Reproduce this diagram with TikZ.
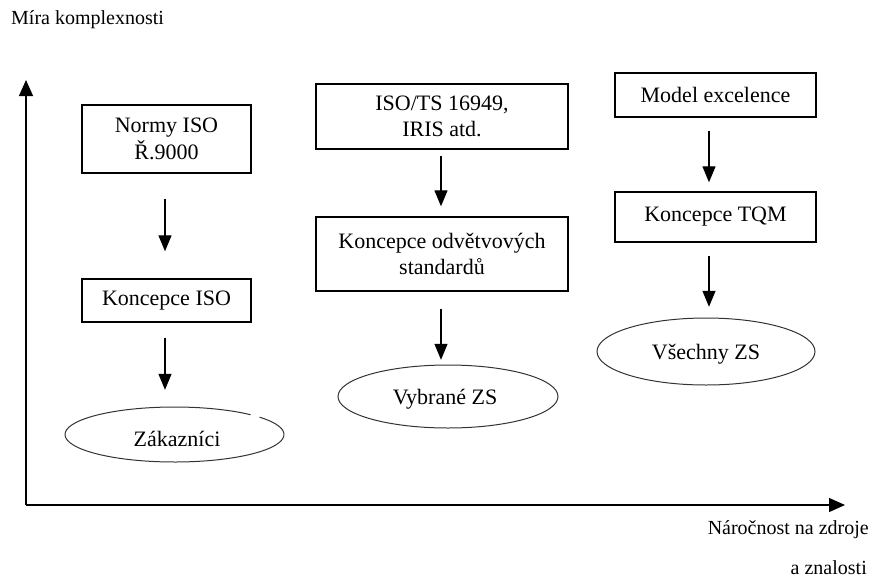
\documentclass[tikz,border=0pt]{standalone}
\usepackage{fontspec}
\setmainfont{Liberation Serif}
\usetikzlibrary{arrows.meta,shapes.geometric,calc}

\begin{document}
\begin{tikzpicture}[x=1pt,y=1pt,
  box/.style={draw=black, line width=1.4pt, rectangle, inner sep=0pt,
    align=center, font=\fontsize{22}{26.5}\selectfont},
  oval/.style={ellipse, inner sep=0pt, font=\fontsize{22}{26}\selectfont},
  ovalline/.style={draw=black!80, line width=1pt},
  flow/.style={line width=1.3pt, -{Triangle[length=16pt,width=13pt]}},
  axis/.style={line width=1.3pt, -{Triangle[length=16pt,width=14pt]}},
  lbl/.style={inner sep=0pt, font=\fontsize{20}{24}\selectfont}]

\useasboundingbox (0,0) rectangle (873,-579);

% axes
\coordinate (origin) at (26,-505);
\coordinate (ytip) at (26,-80);
\coordinate (xtip) at (845,-505);
\draw[axis] (origin) -- (ytip);
\draw[axis] (origin) -- (xtip);

\node[lbl, anchor=west] (ylabel) at (11,-20) {Míra komplexnosti};
\node[lbl, anchor=east] (xlabel1) at (869,-530) {Náročnost na zdroje};
\node[lbl, anchor=east] (xlabel2) at (867,-568) {a znalosti};

% column 1: ISO
\node[box, minimum width=169pt, minimum height=68pt] (iso) at (166.5,-139) {Normy ISO\\Ř.9000};
\node[box, minimum width=169pt, minimum height=43pt] (kiso) at (166.5,-300.5) {Koncepce ISO};
\node[oval, minimum width=219pt, minimum height=55pt] (zak) at (174.5,-434.5) {};
\node[oval] (zaktext) at (177,-439) {Zákazníci};
\draw[ovalline] ($(zak.center)+({109.5*cos(46)},{27.5*sin(46)})$)
  arc[start angle=46, end angle=399, x radius=109.5, y radius=27.5];

\draw[flow, shorten <=25pt, shorten >=27pt] ([xshift=-1.5pt]iso.south) -- ([xshift=-1.5pt]kiso.north);
\draw[flow, shorten <=15pt, shorten >=17pt] ([xshift=-1.5pt]kiso.south) -- ([xshift=-1.5pt]kiso.south |- zak.north);

% column 2: sector standards
\node[box, minimum width=252pt, minimum height=65pt] (ists) at (442,-116.5) {ISO/TS 16949,\\IRIS atd.};
\node[box, minimum width=252pt, minimum height=74pt] (kodv) at (442,-254) {Koncepce odvětvových\\standardů};
\node[oval, minimum width=220pt, minimum height=63pt] (vyb) at (448,-396.5) {};
\node[oval] (vybtext) at (445,-399) {Vybrané ZS};
\draw[ovalline] (vyb.center) ellipse[x radius=110, y radius=31.5];

\draw[flow, shorten <=6pt, shorten >=10pt] ([xshift=-1pt]ists.south) -- ([xshift=-1pt]kodv.north);
\draw[flow, shorten <=17pt, shorten >=5pt] ([xshift=-1pt]kodv.south) -- ([xshift=-1pt]kodv.south |- vyb.north);

% column 3: excellence
\node[box, minimum width=201pt, minimum height=44pt] (mex) at (715.5,-95) {Model excelence};
\node[box, minimum width=201pt, minimum height=50pt] (tqm) at (715.5,-217) {Koncepce TQM};
\node[oval, minimum width=218pt, minimum height=67pt] (vse) at (706,-351.5) {};
\node[oval] (vsetext) at (706,-354) {Všechny ZS};
\draw[ovalline] (vse.center) ellipse[x radius=109, y radius=33.5];

\draw[flow, shorten <=13pt, shorten >=9pt] ([xshift=-6.5pt]mex.south) -- ([xshift=-6.5pt]tqm.north);
\draw[flow, shorten <=13pt, shorten >=11pt] ([xshift=-6.5pt]tqm.south) -- ([xshift=-6.5pt]tqm.south |- vse.north);

\end{tikzpicture}
\end{document}
